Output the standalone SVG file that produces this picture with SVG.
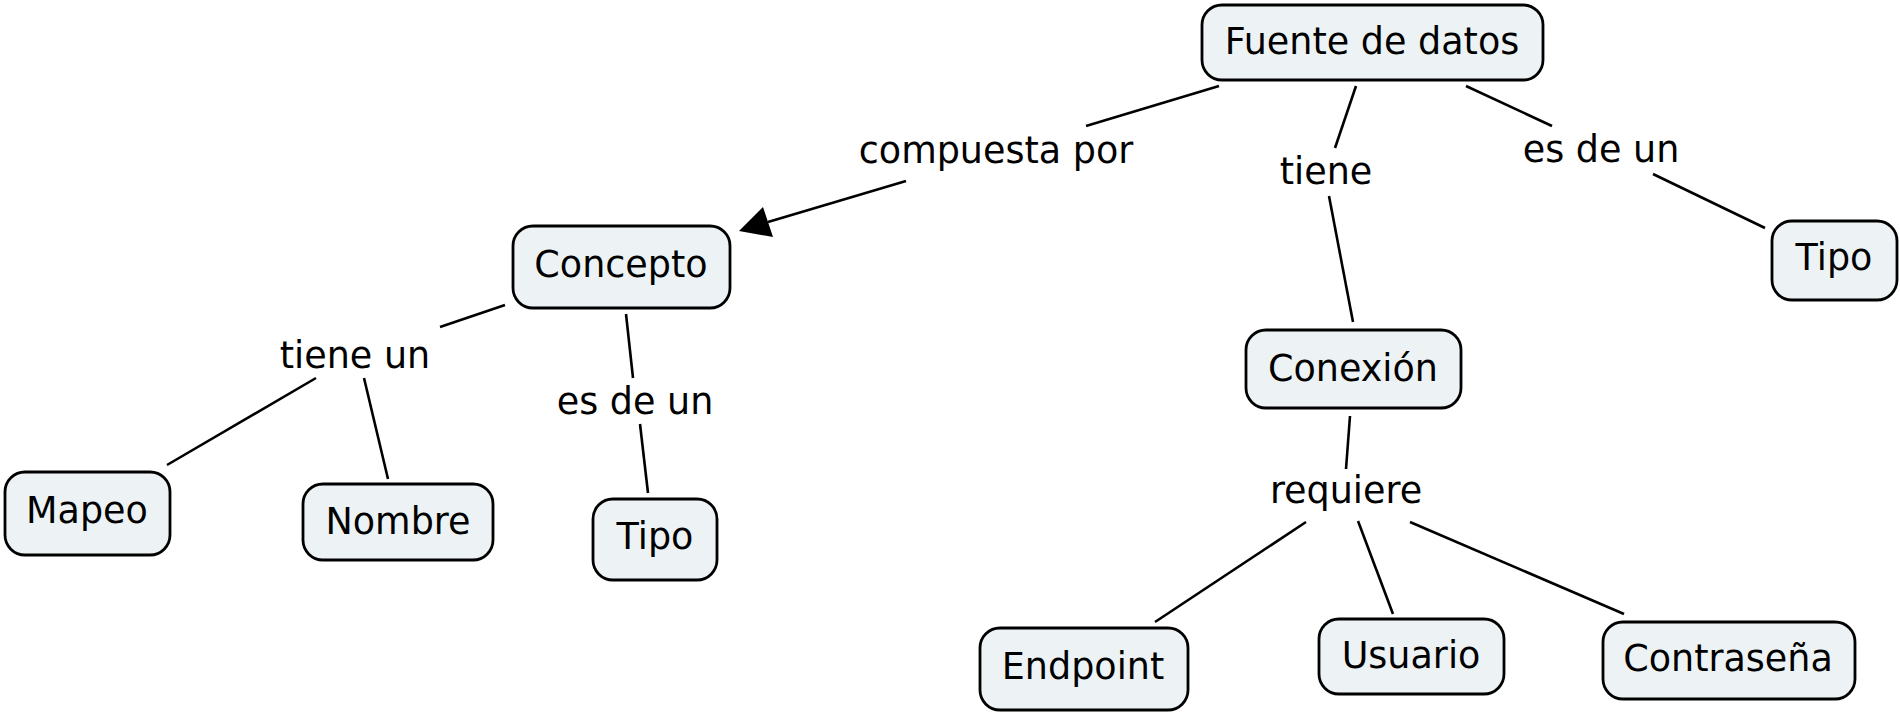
<svg xmlns="http://www.w3.org/2000/svg" width="1900" height="715" viewBox="0 0 1900 715">
<style>
.n rect{fill:#edf3f5;stroke:#000;stroke-width:2.8}
text{font-family:"DejaVu Sans",Verdana,sans-serif;font-size:36.5px;fill:#000;text-anchor:middle;dominant-baseline:central}
.c line{stroke:#000;stroke-width:2.6}
</style>
<rect width="1900" height="715" fill="#fff"/>
<g class="c" id="connectors">
<line x1="1219" y1="86" x2="1086" y2="126"/>
<line x1="906" y1="181" x2="768" y2="222"/>
<path d="M739,231L763,207L773,237z" fill="#000"/>
<line x1="1356" y1="86" x2="1335" y2="148"/>
<line x1="1329" y1="196" x2="1353" y2="322"/>
<line x1="1466" y1="86" x2="1552" y2="126"/>
<line x1="1653" y1="174" x2="1765" y2="228"/>
<line x1="505" y1="305" x2="440" y2="327"/>
<line x1="316" y1="378" x2="167" y2="465"/>
<line x1="364" y1="378" x2="388" y2="479"/>
<line x1="626" y1="314" x2="633" y2="378"/>
<line x1="640" y1="424" x2="648" y2="493"/>
<line x1="1350" y1="416" x2="1346" y2="469"/>
<line x1="1306" y1="522" x2="1155" y2="622"/>
<line x1="1358" y1="521" x2="1393" y2="614"/>
<line x1="1410" y1="522" x2="1624" y2="614"/>
<text x="996" y="150">compuesta por</text>
<text x="1326" y="171">tiene</text>
<text x="1601" y="149">es de un</text>
<text x="355" y="355">tiene un</text>
<text x="635" y="401">es de un</text>
<text x="1346" y="490">requiere</text>
</g>
<g class="n" id="fuente"><rect x="1202" y="5" width="341" height="75" rx="20"/><text x="1372" y="41">Fuente de datos</text></g>
<g class="n" id="concepto"><rect x="513" y="226" width="217" height="82" rx="20"/><text x="621" y="264">Concepto</text></g>
<g class="n" id="tipo1"><rect x="1772" y="221" width="125" height="79" rx="20"/><text x="1834" y="257">Tipo</text></g>
<g class="n" id="conexion"><rect x="1246" y="330" width="215" height="78" rx="20"/><text x="1353" y="368">Conexión</text></g>
<g class="n" id="mapeo"><rect x="5" y="472" width="165" height="83" rx="20"/><text x="87" y="510">Mapeo</text></g>
<g class="n" id="nombre"><rect x="303" y="484" width="190" height="76" rx="20"/><text x="398" y="521">Nombre</text></g>
<g class="n" id="tipo2"><rect x="593" y="499" width="124" height="81" rx="20"/><text x="655" y="536">Tipo</text></g>
<g class="n" id="endpoint"><rect x="980" y="628" width="208" height="82" rx="20"/><text x="1083" y="666">Endpoint</text></g>
<g class="n" id="usuario"><rect x="1319" y="619" width="185" height="75" rx="20"/><text x="1411" y="655">Usuario</text></g>
<g class="n" id="contrasena"><rect x="1603" y="622" width="252" height="77" rx="20"/><text x="1728" y="658">Contraseña</text></g>
</svg>
